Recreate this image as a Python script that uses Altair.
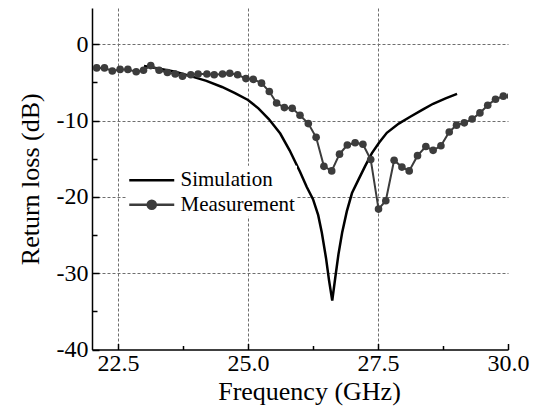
import altair as alt
import pandas as pd

# ---- data ----
sim_freq = [23.0, 23.3, 23.6, 23.88, 24.2, 24.5, 24.75, 25.0, 25.2, 25.4, 25.62, 25.8,
            26.0, 26.13, 26.25, 26.35, 26.42, 26.5, 26.56, 26.62, 26.68, 26.74, 26.81,
            26.9, 27.0, 27.12, 27.25, 27.38, 27.52, 27.67, 27.9, 28.12, 28.35, 28.56,
            28.8, 29.02]
sim_rl = [-2.85, -3.2, -3.6, -4.15, -4.8, -5.6, -6.4, -7.3, -8.4, -9.8, -11.7, -13.9,
          -16.7, -18.7, -20.3, -22.4, -24.7, -28.0, -31.0, -33.6, -30.5, -27.5, -24.7,
          -21.9, -19.5, -17.8, -16.0, -14.3, -12.9, -11.6, -10.4, -9.5, -8.6, -7.8,
          -7.1, -6.5]

meas_freq = [22.09, 22.24, 22.39, 22.54, 22.69, 22.85, 22.99, 23.13, 23.29, 23.45,
             23.60, 23.74, 23.90, 24.04, 24.21, 24.35, 24.51, 24.65, 24.80, 24.96,
             25.10, 25.26, 25.41, 25.55, 25.70, 25.85, 26.00, 26.16, 26.31, 26.46,
             26.61, 26.76, 26.91, 27.06, 27.21, 27.36, 27.51, 27.65, 27.81, 27.96,
             28.10, 28.26, 28.42, 28.56, 28.71, 28.87, 29.01, 29.16, 29.31, 29.46,
             29.61, 29.76, 29.91, 30.05]
meas_rl = [-3.1, -3.1, -3.5, -3.3, -3.3, -3.6, -3.4, -2.8, -3.4, -3.7,
           -3.9, -4.2, -4.0, -3.9, -3.9, -4.0, -3.9, -3.8, -4.0, -4.5,
           -4.6, -5.1, -6.2, -7.7, -8.3, -8.4, -9.3, -10.4, -12.2, -16.0,
           -16.6, -14.4, -13.2, -12.9, -13.1, -15.1, -21.6, -20.5, -15.2, -16.1,
           -16.6, -14.6, -13.4, -13.9, -13.3, -11.5, -10.6, -10.3, -9.8, -9.0,
           -8.0, -7.2, -6.8, -6.8]

series_names = ["Simulation", "Measurement"]
series_colors = ["#000000", "#3c3c3c"]

x_ticks = [22.5, 23.75, 25.0, 26.25, 27.5, 28.75, 30.0]
y_major = [-40, -30, -20, -10, 0]
y_ticks = [-40, -35, -30, -25, -20, -15, -10, -5, 0]

sim_df = pd.DataFrame({"freq": sim_freq, "rl": sim_rl})
meas_df = pd.DataFrame({"freq": meas_freq, "rl": meas_rl})
legend_df = pd.DataFrame({"series": series_names})

FONT = "Liberation Serif"
W, H = 416, 341.5
xscale = alt.Scale(domain=[22, 30], nice=False, zero=False)
yscale = alt.Scale(domain=[-40, 4.75], nice=False, zero=False)

x_main = alt.Axis(
    values=x_ticks, ticks=False, grid=True, gridDash=[3, 2], gridColor="#6e6e6e", gridWidth=1,
    gridOpacity={"condition": {"test": "indexof([22.5,25,27.5], datum.value) >= 0", "value": 1}, "value": 0},
    labelExpr="indexof([22.5,25,27.5,30], datum.value) >= 0 ? format(datum.value, '.1f') : ''",
    labelFont=FONT, labelFontSize=24, labelColor="black", labelPadding=2,
    labelOverlap=False, labelFlush=False,
    domainColor="black", domainWidth=1.5,
    title="Frequency (GHz)", titleFont=FONT, titleFontSize=26, titleFontWeight="normal",
    titleColor="black", titlePadding=3, titleX=217,
)
y_main = alt.Axis(
    values=y_major, ticks=False, grid=True, gridDash=[3, 2], gridColor="#6e6e6e", gridWidth=1,
    gridOpacity={"condition": {"test": "datum.value > -40", "value": 1}, "value": 0},
    labelExpr="'' + datum.value",
    labelFont=FONT, labelFontSize=24, labelColor="black", labelPadding=4,
    labelOverlap=False, labelFlush=False,
    domainColor="black", domainWidth=1.5,
    title="Return loss (dB)", titleFont=FONT, titleFontSize=26, titleFontWeight="normal",
    titleColor="black", titlePadding=13,
)
x_tickaxis = alt.Axis(
    orient="top", offset=-H, values=x_ticks, labels=False, domain=False, grid=False, title=None,
    tickColor="black", tickWidth=1.5,
    tickSize={"condition": {"test": "indexof([22.5,25,27.5,30], datum.value) >= 0", "value": 6}, "value": 4},
)
y_tickaxis = alt.Axis(
    orient="right", offset=-W, values=y_ticks, labels=False, domain=False, grid=False, title=None,
    tickColor="black", tickWidth=1.5,
    tickSize={"condition": {"test": "datum.value % 10 === 0", "value": 7}, "value": 5},
)

sim_line = alt.Chart(sim_df).mark_line(color="black", strokeWidth=2.5).encode(
    x=alt.X("freq:Q", scale=xscale, axis=x_main),
    y=alt.Y("rl:Q", scale=yscale, axis=y_main),
)

meas_line = alt.Chart(meas_df).mark_line(color="#3c3c3c", strokeWidth=2, clip=True).encode(
    x=alt.X("freq:Q", scale=xscale, axis=x_tickaxis),
    y=alt.Y("rl:Q", scale=yscale, axis=y_tickaxis),
)

meas_pts = alt.Chart(meas_df).mark_circle(color="#3c3c3c", size=58, opacity=1, clip=True).encode(
    x=alt.X("freq:Q", scale=xscale, axis=None),
    y=alt.Y("rl:Q", scale=yscale, axis=None),
)

sim_path = "M-1,0H3"
meas_path = "M-1,0H3M0.64,0A0.36,0.36,0,1,0,1.36,0A0.36,0.36,0,1,0,0.64,0Z"

leg = alt.Legend(
    orient="none", legendX=34, legendY=157.75, title=None,
    labelFont=FONT, labelFontSize=21, labelColor="black", labelOffset=27.5,
    symbolSize=506, symbolStrokeWidth=2.5, symbolOpacity=1,
    rowPadding=1.5, padding=2, fillColor="white",
)
legend_layer = alt.Chart(legend_df).mark_point(opacity=0, filled=True, strokeWidth=2.5).encode(
    shape=alt.Shape("series:N", scale=alt.Scale(domain=series_names, range=[sim_path, meas_path]), legend=leg),
    fill=alt.Fill("series:N", scale=alt.Scale(domain=series_names, range=series_colors), legend=leg),
    stroke=alt.Stroke("series:N", scale=alt.Scale(domain=series_names, range=series_colors), legend=leg),
)

chart = alt.layer(sim_line, meas_line, meas_pts, legend_layer).resolve_axis(
    x="independent", y="independent"
).properties(
    width=W, height=H,
    autosize=alt.AutoSizeParams(type="none"),
    padding={"left": 84, "top": 0, "right": 32, "bottom": 56},
).configure_view(stroke=None)

chart.save("out.html", embed_options={"renderer": "svg", "actions": False})
